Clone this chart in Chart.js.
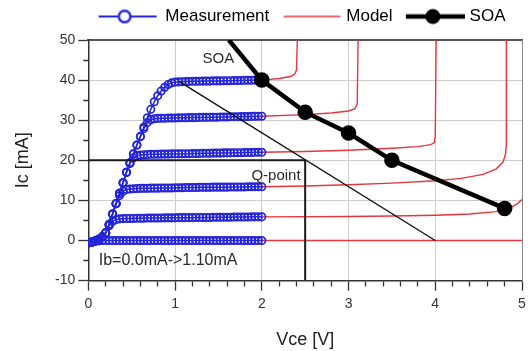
<!DOCTYPE html>
<html><head><meta charset="utf-8">
<script src="https://cdn.jsdelivr.net/npm/chart.js@4.4.1/dist/chart.umd.min.js"></script>
<style>html,body{margin:0;padding:0;background:#fff;}#wrap{width:532px;height:351px;position:relative;}</style>
</head><body><div id="wrap"><canvas id="c"></canvas></div>
<script>
// ---------------- data ----------------
const measVce = [0,0.04,0.08,0.12,0.16,0.2,0.24,0.28,0.32,0.36,
  0.4,0.44,0.48,0.52,0.56,0.6,0.64,0.68,0.72,0.76,
  0.8,0.84,0.88,0.92,0.96,1,1.04,1.08,1.12,1.16,
  1.2,1.24,1.28,1.32,1.36,1.4,1.44,1.48,1.52,1.56,
  1.6,1.64,1.68,1.72,1.76,1.8,1.84,1.88,1.92,1.96,2];
const measIb0 = [-0.6,-0.4,-0.2,-0.1,0,0,0,0,0,0,
  0,0,0,0,0,0,0,0,0,0,
  0,0,0,0,0,0,0,0,0,0,
  0,0,0,0,0,0,0,0,0,0,
  0,0,0,0,0,0,0,0,0,0,0];
const measIb1 = [-0.6,-0.4,-0.1,0.3,0.9,1.9,3.7,4.8,5.2,5.4,
  5.45,5.5,5.5,5.5,5.55,5.55,5.55,5.6,5.6,5.6,
  5.6,5.6,5.65,5.65,5.65,5.65,5.7,5.7,5.7,5.7,
  5.7,5.75,5.75,5.75,5.75,5.75,5.8,5.8,5.8,5.8,
  5.8,5.8,5.85,5.85,5.85,5.85,5.85,5.9,5.9,5.9,5.9];
const measIb2 = [-0.6,-0.4,-0.1,0.3,0.9,1.9,4.0,6.6,9.2,11.2,
  12.3,12.7,12.85,12.9,12.95,13.0,13.0,13.0,13.05,13.05,
  13.05,13.1,13.1,13.1,13.1,13.15,13.15,13.15,13.2,13.2,
  13.2,13.2,13.25,13.25,13.25,13.25,13.3,13.3,13.3,13.3,
  13.3,13.35,13.35,13.35,13.35,13.35,13.4,13.4,13.4,13.4,13.4];
const measIb3 = [-0.6,-0.4,-0.1,0.3,0.9,1.9,4.0,6.6,9.2,11.8,
  14.4,17.0,19.2,20.6,21.1,21.3,21.4,21.45,21.5,21.5,
  21.5,21.55,21.55,21.55,21.6,21.6,21.6,21.65,21.65,21.65,
  21.7,21.7,21.7,21.75,21.75,21.75,21.8,21.8,21.8,21.85,
  21.85,21.85,21.9,21.9,21.9,21.95,21.95,21.95,22.0,22.0,22.0];
const measIb4 = [-0.6,-0.4,-0.1,0.3,0.9,1.9,4.0,6.6,9.2,11.8,
  14.4,17.0,19.4,21.6,23.8,25.9,27.9,29.4,30.1,30.35,
  30.45,30.5,30.5,30.55,30.55,30.55,30.6,30.6,30.6,30.65,
  30.65,30.65,30.7,30.7,30.7,30.75,30.75,30.75,30.8,30.8,
  30.8,30.85,30.85,30.85,30.9,30.9,30.9,30.95,30.95,31.0,31.0];
const measIb5 = [-0.6,-0.4,-0.1,0.3,0.9,1.9,4.0,6.6,9.2,11.8,
  14.4,17.0,19.4,21.6,23.8,26.0,28.3,30.6,32.7,34.6,
  36.1,37.3,38.2,38.9,39.3,39.5,39.55,39.6,39.65,39.65,
  39.7,39.7,39.7,39.75,39.75,39.75,39.8,39.8,39.8,39.85,
  39.85,39.85,39.9,39.9,39.9,39.95,39.95,39.95,40.0,40.0,40.0];

const model1Vce = [2,5];
const model1Ic  = [0,0];
const model2Vce = [2,3,3.5,4,4.4,4.7,4.85,4.95,5];
const model2Ic  = [5.9,6.0,6.1,6.3,6.6,7.2,8.0,9.2,10.2];
const model3Vce = [2,2.5,3,3.5,4,4.3,4.55,4.7,4.78,4.81,4.82,4.82];
const model3Ic  = [13.4,13.6,13.9,14.3,14.9,15.5,16.5,17.8,19.5,21.5,24,50];
const model4Vce = [2,2.5,3,3.5,3.8,3.95,3.99,4.0,4.01];
const model4Ic  = [22,22.2,22.5,23,23.4,23.9,24.4,26,50];
const model5Vce = [2,2.5,2.8,3.0,3.07,3.1,3.11];
const model5Ic  = [31,31.4,31.8,32.3,32.8,34,50];
const model6Vce = [2,2.2,2.33,2.38,2.4,2.41];
const model6Ic  = [40,40.4,40.9,41.5,42.5,50];

const soaVce = [1.62,2,2.5,3,3.5,4.8];
const soaIc  = [50,40,32,26.8,20,8];
const loadVce = [1.05,4];
const loadIc  = [39.6,0];
const qVce = [0,2.5,2.5];
const qIc  = [20,20,-10];

const xRange = [0,5], xMajorStep = 1, xMinorStep = 0.2;
const yRange = [-10,50], yMajorStep = 10, yMinorStep = 5;
const legendNames = ['Measurement','Model','SOA'];
const axisTitles = {x:'Vce [V]', y:'Ic [mA]'};
const notes = [
  {text:'SOA', x:1.5, y:45.2, align:'center', size:15},
  {text:'Q-point', x:1.88, y:16.2, align:'left', size:15},
  {text:'Ib=0.0mA->1.10mA', x:0.12, y:-4.9, align:'left', size:16}
];

// ---------------- helpers ----------------
const pts = (xs, ys) => xs.map((v,i)=>({x:v, y:ys[i]}));
const BLUE = '#2424d8', RED = '#e8343f', BLACK = '#000';
const FONT = '"Liberation Sans", Arial, Helvetica, sans-serif';
Chart.defaults.font.family = FONT;

function icon(w, h, draw){ const c=document.createElement('canvas'); c.width=w; c.height=h; draw(c.getContext('2d')); return c; }
const iconMeas = icon(62,16,g=>{g.strokeStyle=BLUE;g.lineWidth=2;g.beginPath();g.moveTo(3,8);g.lineTo(61,8);g.stroke();
  g.fillStyle='#fff';g.lineWidth=2.4;g.beginPath();g.arc(29,8,5.8,0,Math.PI*2);g.fill();g.stroke();});
const iconModel = icon(80,6,g=>{g.strokeStyle=RED;g.lineWidth=1.6;g.beginPath();g.moveTo(16,3);g.lineTo(73,3);g.stroke();});
const iconSoa = icon(68,20,g=>{g.strokeStyle=BLACK;g.lineWidth=4.5;g.beginPath();g.moveTo(9,10);g.lineTo(68,10);g.stroke();
  g.fillStyle=BLACK;g.beginPath();g.arc(36,10,7.5,0,Math.PI*2);g.fill();});

const measSets = [measIb0,measIb1,measIb2,measIb3,measIb4,measIb5].map(arr=>({
  label:'Measurement', data:pts(measVce,arr), borderColor:BLUE, borderWidth:1.5,
  pointRadius:3.7, pointBorderWidth:1.7, pointBorderColor:BLUE, pointBackgroundColor:'rgba(0,0,0,0)',
  order:3, xAxisID:'x', yAxisID:'y'
}));
const modelSets = [[model1Vce,model1Ic],[model2Vce,model2Ic],[model3Vce,model3Ic],[model4Vce,model4Ic],[model5Vce,model5Ic],[model6Vce,model6Ic]].map(([a,b])=>({
  label:'Model', data:pts(a,b), borderColor:RED, borderWidth:1.4, pointRadius:0, order:4, xAxisID:'x', yAxisID:'y'
}));

const datasets = [
  {label:'SOA', data:pts(soaVce,soaIc), borderColor:BLACK, borderWidth:4.5,
   pointRadius:soaVce.map((v,i)=> i===0?0:5.5), pointBackgroundColor:BLACK, pointBorderColor:BLACK, order:0, xAxisID:'x', yAxisID:'y'},
  {label:'Q', data:pts(qVce,qIc), borderColor:'#1a1a1a', borderWidth:2, pointRadius:0, order:1, xAxisID:'x', yAxisID:'y'},
  {label:'Load', data:pts(loadVce,loadIc), borderColor:'#111', borderWidth:1.4, pointRadius:0, order:2, xAxisID:'x', yAxisID:'y'},
  ...measSets, ...modelSets
];

const notePlugin = {
  id:'notes',
  afterDatasetsDraw(chart){
    const {ctx, scales:{x, y}} = chart;
    ctx.save();
    ctx.fillStyle = '#2a2a2a';
    ctx.textBaseline = 'middle';
    notes.forEach(n=>{ ctx.font = n.size + 'px ' + FONT; ctx.textAlign = n.align; ctx.fillText(n.text, x.getPixelForValue(n.x), y.getPixelForValue(n.y)); });
    ctx.restore();
  }
};

const isMult = (v, step) => Math.abs(v/step - Math.round(v/step)) < 1e-6;
const tickColor = '#333';
const gridColor = '#cdcdcd';
new Chart(document.getElementById('c'), {
  type:'line',
  data:{datasets},
  plugins:[notePlugin],
  options:{
    responsive:true, maintainAspectRatio:false, animation:false, devicePixelRatio:1,
    layout:{padding:{left:8.5, right:7, top:0, bottom:0}},
    plugins:{
      tooltip:{enabled:false},
      legend:{position:'top', fullSize:false, align:'start',
        labels:{usePointStyle:true, pointStyleWidth:60.5, padding:8, color:'#222', font:{size:17},
          generateLabels:()=>[
            {text:legendNames[0], pointStyle:iconMeas, fillStyle:BLUE, strokeStyle:BLUE, lineWidth:0, hidden:false, datasetIndex:3},
            {text:legendNames[1], pointStyle:iconModel, fillStyle:RED, strokeStyle:RED, lineWidth:0, hidden:false, datasetIndex:9},
            {text:legendNames[2], pointStyle:iconSoa, fillStyle:BLACK, strokeStyle:BLACK, lineWidth:0, hidden:false, datasetIndex:0}
          ]}}
    },
    scales:{
      x:{type:'linear', axis:'x', position:'bottom', min:xRange[0], max:xRange[1],
        ticks:{stepSize:xMinorStep, color:tickColor, font:{size:14}, padding:5, maxRotation:0, autoSkip:false,
          callback:v=> isMult(v,xMajorStep) ? String(Math.round(v)) : ''},
        grid:{color:c=> isMult(c.tick.value,xMajorStep) ? gridColor : 'rgba(0,0,0,0)', lineWidth:1,
          tickColor:tickColor, tickLength:10, tickWidth:1.3,
          tickBorderDash:c=> isMult(c.tick.value,xMajorStep) ? [] : [5,100]},
        border:{color:'#333', width:1.5},
        title:{display:true, text:axisTitles.x, color:'#222', font:{size:18}, padding:{top:12, bottom:0}}},
      xTop:{type:'linear', axis:'x', position:'top', min:xRange[0], max:xRange[1],
        ticks:{display:false},
        grid:{drawOnChartArea:false, drawTicks:true, tickLength:5, tickColor:'rgba(0,0,0,0)'},
        border:{color:'#555', width:2}},
      y:{type:'linear', axis:'y', position:'left', min:yRange[0], max:yRange[1],
        ticks:{stepSize:yMinorStep, color:tickColor, font:{size:14}, padding:3, autoSkip:false,
          callback:v=> isMult(v,yMajorStep) ? String(Math.round(v)) : ''},
        grid:{color:c=> isMult(c.tick.value,yMajorStep) ? gridColor : 'rgba(0,0,0,0)', lineWidth:1,
          tickColor:tickColor, tickLength:10, tickWidth:1.3,
          tickBorderDash:c=> isMult(c.tick.value,yMajorStep) ? [] : [0,5,5,100]},
        border:{color:'#333', width:1.5},
        title:{display:true, text:axisTitles.y, color:'#222', font:{size:18}, padding:{top:4, bottom:18}}},
      yRight:{type:'linear', axis:'y', position:'right', min:yRange[0], max:yRange[1],
        ticks:{display:false},
        grid:{drawOnChartArea:false, drawTicks:false},
        border:{color:'#8a8a8a', width:1}}
    }
  }
});
</script></body></html>
